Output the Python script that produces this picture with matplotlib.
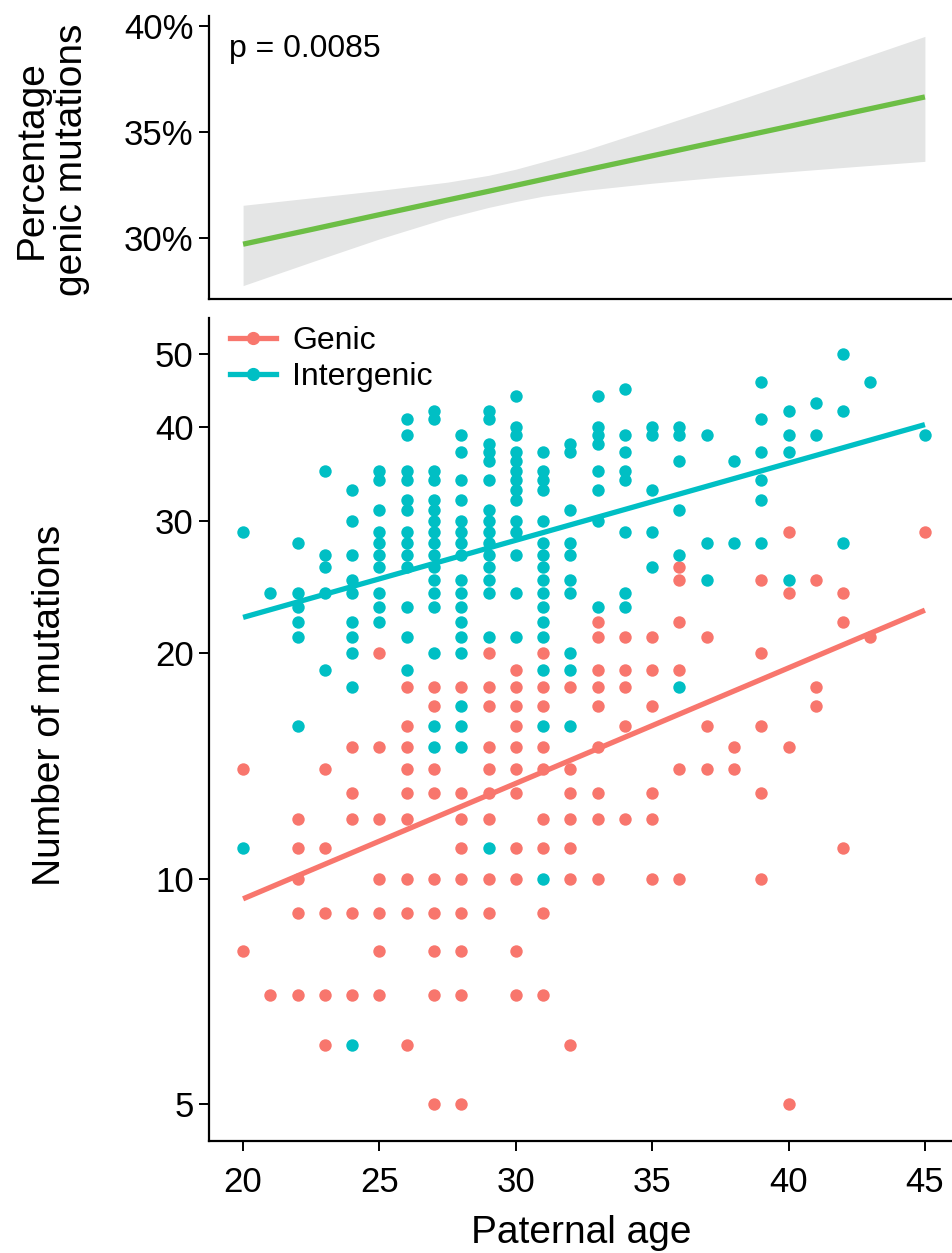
"""
Paternal age vs. number of de novo mutations (genic / intergenic),
with the share of genic mutations on top.
"""
import matplotlib
matplotlib.use("Agg")
import matplotlib.pyplot as plt
from matplotlib.lines import Line2D
from matplotlib.ticker import FixedLocator, NullLocator, FuncFormatter

plt.rcParams["font.family"] = ["Liberation Sans", "DejaVu Sans"]

# ---------------------------------------------------------------------------
# Data
# ---------------------------------------------------------------------------

# counts per paternal age
genic_by_age = {
    20: [14, 8],
    21: [7],
    22: [12, 11, 10, 9, 7],
    23: [14, 11, 9, 7, 6],
    24: [15, 13, 12, 9, 7],
    25: [20, 15, 12, 10, 9, 8, 7],
    26: [18, 16, 15, 14, 13, 12, 10, 9, 6],
    27: [18, 17, 14, 13, 10, 9, 8, 7, 5],
    28: [18, 13, 12, 11, 10, 9, 8, 7, 5],
    29: [20, 18, 17, 15, 14, 13, 12, 10, 9],
    30: [19, 18, 17, 16, 15, 14, 13, 11, 10, 8, 7],
    31: [20, 18, 17, 15, 14, 12, 11, 9, 7],
    32: [18, 14, 13, 12, 11, 10, 6],
    33: [22, 21, 19, 18, 17, 15, 13, 12, 10],
    34: [21, 19, 18, 16, 12],
    35: [21, 19, 17, 13, 12, 10],
    36: [26, 25, 22, 19, 14, 10],
    37: [21, 16, 14],
    38: [15, 14],
    39: [25, 20, 16, 13, 10],
    40: [29, 24, 15, 5],
    41: [25, 18, 17],
    42: [24, 22, 11],
    43: [21],
    45: [29],
}

intergenic_by_age = {
    20: [29, 11],
    21: [24],
    22: [28, 24, 23, 22, 21, 16],
    23: [35, 27, 26, 24, 19],
    24: [33, 30, 27, 25, 24, 22, 21, 20, 18, 6],
    25: [35, 34, 31, 29, 28, 27, 26, 24, 23, 22],
    26: [41, 39, 35, 34, 32, 31, 29, 28, 27, 26, 23, 21, 19],
    27: [42, 41, 35, 34, 32, 31, 30, 29, 28, 27, 26, 25, 24, 23, 20, 16, 15],
    28: [39, 37, 34, 32, 30, 29, 28, 27, 25, 24, 23, 22, 21, 20, 17, 16, 15],
    29: [42, 41, 38, 37, 36, 34, 31, 30, 29, 28, 27, 26, 25, 24, 21, 11],
    30: [44, 40, 39, 37, 36, 35, 34, 33, 32, 30, 29, 27, 24, 21],
    31: [37, 35, 34, 33, 30, 28, 27, 26, 25, 24, 23, 22, 21, 19, 16, 10],
    32: [38, 37, 31, 28, 27, 25, 24, 20, 19, 16],
    33: [44, 40, 39, 38, 35, 33, 30, 23],
    34: [45, 39, 37, 35, 34, 29, 24, 23],
    35: [40, 39, 33, 29, 26],
    36: [40, 39, 36, 31, 27, 18],
    37: [39, 28, 25],
    38: [36, 28],
    39: [46, 41, 37, 34, 32, 28],
    40: [42, 39, 37, 25],
    41: [43, 39],
    42: [50, 42, 28],
    43: [46],
    45: [39],
}

# fitted trend lines (end points)
fit_ages = [20, 45]
genic_fit = [9.4, 22.8]
intergenic_fit = [22.3, 40.3]

# percentage genic fit with confidence band
pct_ages = [20, 22.5, 25, 27.5, 29, 30, 31, 32.5, 35, 37.5, 40, 42.5, 45]
pct_fit = [29.72, 30.41, 31.11, 31.80, 32.21, 32.49, 32.77, 33.19, 33.88,
           34.57, 35.26, 35.96, 36.65]
pct_lower = [27.77, 28.88, 29.97, 30.96, 31.45, 31.73, 31.98, 32.25, 32.59,
             32.88, 33.13, 33.38, 33.62]
pct_upper = [31.55, 31.90, 32.25, 32.64, 32.96, 33.25, 33.60, 34.13, 35.17,
             36.22, 37.30, 38.40, 39.50]
p_text = "p = 0.0085"

y_ticks = [5, 10, 20, 30, 40, 50]
x_ticks = [20, 25, 30, 35, 40, 45]
pct_ticks = [30, 35, 40]

RED = "#F8766D"
TEAL = "#00BFC4"
GREEN = "#6CBE45"
BAND = "#E4E5E5"


def flatten(d):
    xs, ys = [], []
    for age, vals in d.items():
        xs += [age] * len(vals)
        ys += vals
    return xs, ys


# ---------------------------------------------------------------------------
# Figure
# ---------------------------------------------------------------------------
W, H = 952, 1253
fig = plt.figure(figsize=(W / 100, H / 100), dpi=100)

left = 209 / W
width = (959 - 209) / W
ax_top = fig.add_axes([left, 1 - 299 / H, width, (299 - 16) / H])
ax = fig.add_axes([left, 1 - 1141 / H, width, (1141 - 318) / H])

xlim = (18.75, 46.25)

# --- top panel --------------------------------------------------------------
ax_top.fill_between(pct_ages, pct_lower, pct_upper, color=BAND, lw=0)
ax_top.plot(pct_ages, pct_fit, color=GREEN, lw=3.8, solid_capstyle="butt")
ax_top.set_xlim(*xlim)
ax_top.set_ylim(27.14, 40.46)
ax_top.set_yticks(pct_ticks)
ax_top.yaxis.set_major_formatter(FuncFormatter(lambda v, _: f"{v:.0f}%"))
ax_top.set_xticks([])
ax_top.text(19.5, 38.9, p_text, fontsize=23, va="center", ha="left")

# --- bottom panel -----------------------------------------------------------
gx, gy = flatten(genic_by_age)
ix, iy = flatten(intergenic_by_age)
ax.scatter(gx, gy, s=80, color=RED, lw=0, zorder=2)
ax.scatter(ix, iy, s=80, color=TEAL, lw=0, zorder=2)
ax.plot(fit_ages, genic_fit, color=RED, lw=3.8, zorder=3, solid_capstyle="butt")
ax.plot(fit_ages, intergenic_fit, color=TEAL, lw=3.8, zorder=3, solid_capstyle="butt")

ax.set_yscale("log")
ax.set_ylim(4.47, 55.9)
ax.set_xlim(*xlim)
ax.yaxis.set_major_locator(FixedLocator(y_ticks))
ax.yaxis.set_minor_locator(NullLocator())
ax.yaxis.set_major_formatter(FuncFormatter(lambda v, _: f"{v:.0f}"))
ax.set_xticks(x_ticks)

handles = [
    Line2D([], [], color=RED, lw=3.8, marker="o", ms=8.5, label="Genic"),
    Line2D([], [], color=TEAL, lw=3.8, marker="o", ms=8.5, label="Intergenic"),
]
ax.legend(handles=handles, loc="upper left", frameon=False, fontsize=23,
          handlelength=1.45, handletextpad=0.5, labelspacing=0.18,
          borderaxespad=0, borderpad=0,
          bbox_to_anchor=(21 / 750, 1 - 8 / 823))

for a in (ax_top, ax):
    for side in ("top", "right"):
        a.spines[side].set_visible(False)
    for side in ("left", "bottom"):
        a.spines[side].set_linewidth(1.6)
    a.tick_params(axis="both", labelsize=25, width=1.4, length=7, pad=4)
ax.tick_params(axis="x", pad=11)

# axis titles
fig.text(50 / W, 1 - 705 / H, "Number of mutations", rotation=90,
         ha="center", va="center", fontsize=28)
fig.text(52 / W, 1 - 160 / H, "Percentage\ngenic mutations", rotation=90,
         ha="center", va="center", fontsize=28, linespacing=1.15)
fig.text(581 / W, 1 - 1233 / H, "Paternal age", ha="center", va="center",
         fontsize=28)

fig.savefig("out.png", dpi=100)
